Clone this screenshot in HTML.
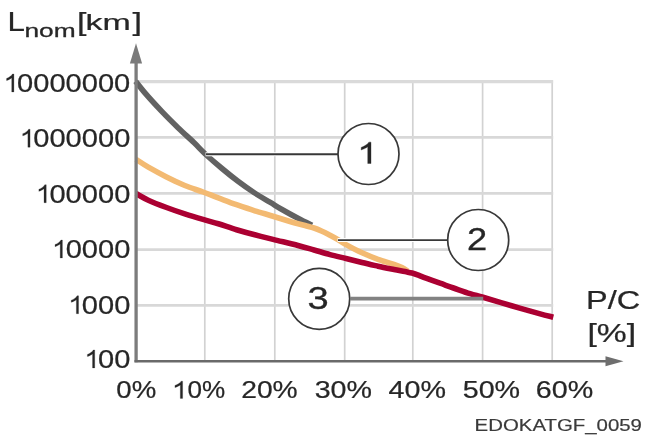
<!DOCTYPE html>
<html><head><meta charset="utf-8"><title>Chart</title>
<style>
html,body{margin:0;padding:0;background:#fff;}
body{width:649px;height:438px;overflow:hidden;font-family:"Liberation Sans",sans-serif;}
svg{display:block;font-family:"Liberation Sans",sans-serif;}
</style></head><body>
<svg width="649" height="438" viewBox="0 0 649 438">
<defs><filter id="bg" filterUnits="userSpaceOnUse" x="0" y="0" width="649" height="438"><feGaussianBlur stdDeviation="0.55"/></filter><filter id="bc" filterUnits="userSpaceOnUse" x="0" y="0" width="649" height="438"><feGaussianBlur stdDeviation="0.72"/></filter><filter id="bs" filterUnits="userSpaceOnUse" x="0" y="0" width="649" height="438"><feGaussianBlur stdDeviation="0.55"/></filter><filter id="bt" filterUnits="userSpaceOnUse" x="0" y="0" width="649" height="438"><feGaussianBlur stdDeviation="0.62"/></filter><filter id="bf" filterUnits="userSpaceOnUse" x="0" y="0" width="649" height="438"><feGaussianBlur stdDeviation="0.68"/></filter></defs>
<rect width="649" height="438" fill="#fff"/>
<g filter="url(#bg)" fill="none">
<line x1="204.8" y1="80.6" x2="204.8" y2="360.5" stroke="#d2d2d2" stroke-width="1.7"/>
<line x1="274.8" y1="80.6" x2="274.8" y2="360.5" stroke="#d2d2d2" stroke-width="1.7"/>
<line x1="344.7" y1="80.6" x2="344.7" y2="360.5" stroke="#d2d2d2" stroke-width="1.7"/>
<line x1="412.8" y1="80.6" x2="412.8" y2="360.5" stroke="#d2d2d2" stroke-width="1.7"/>
<line x1="482.6" y1="80.6" x2="482.6" y2="360.5" stroke="#d2d2d2" stroke-width="1.7"/>
<line x1="552.2" y1="80.6" x2="552.2" y2="360.5" stroke="#d2d2d2" stroke-width="1.7"/>
<line x1="136" y1="81.7" x2="553.2" y2="81.7" stroke="#dadada" stroke-width="3.2"/>
<line x1="136" y1="137.4" x2="553.2" y2="137.4" stroke="#d8d8d8" stroke-width="2.8"/>
<line x1="136" y1="193.3" x2="553.2" y2="193.3" stroke="#d8d8d8" stroke-width="2.8"/>
<line x1="136" y1="249.7" x2="553.2" y2="249.7" stroke="#d8d8d8" stroke-width="2.8"/>
<line x1="136" y1="305.4" x2="553.2" y2="305.4" stroke="#d8d8d8" stroke-width="2.8"/>
</g>
<g filter="url(#bc)">
<path d="M135.6,81.2 C137.3,83.4 141.6,89.1 146,94.2 C150.4,99.3 156.7,106.1 162,111.7 C167.3,117.3 172.7,122.6 178,127.7 C183.3,132.8 189.4,138.3 193.9,142.6 C198.4,146.9 200.3,149.4 205,153.7 C209.7,158.0 216.5,163.9 222,168.5 C227.5,173.1 232.7,177.3 238,181.3 C243.3,185.3 248.6,189.0 253.9,192.5 C259.2,196.0 265.2,199.4 269.9,202.2 C274.6,205.0 277.3,206.8 282,209.5 C286.7,212.2 294.0,216.2 298,218.3 C302.0,220.4 303.7,221.1 306,222.3 C308.3,223.5 311.0,224.8 312,225.3" stroke="#626262" stroke-width="5.6" fill="none"/>
<path d="M136,159.3 C138.1,160.6 143.2,164.2 148.3,167.2 C153.4,170.1 160.4,173.9 166.5,177 C172.6,180.1 178.7,183.0 184.8,185.5 C190.9,188.0 197.4,189.9 203,192 C208.6,194.1 212.7,195.8 218.3,197.9 C223.9,200.0 230.4,202.5 236.5,204.7 C242.6,206.8 248.7,208.9 254.8,210.8 C260.9,212.7 267.1,214.4 273,216.2 C278.9,218.0 284.7,219.9 290,221.5 C295.3,223.1 301.0,224.4 305,225.5 C309.0,226.6 311.2,227.1 314,228 C316.8,228.9 319.3,230.0 322,231.2 C324.7,232.4 327.3,233.8 330,235.2 C332.7,236.6 335.3,238.0 338,239.6 C340.7,241.2 342.0,242.4 346,244.6 C350.0,246.8 356.7,250.4 362,252.8 C367.3,255.2 372.7,257.4 378,259.3 C383.3,261.2 390.0,263.0 394,264.4 C398.0,265.8 399.7,266.5 402,267.6 C404.3,268.7 407.0,270.6 408,271.2" stroke="#f3ba72" stroke-width="5.6" fill="none"/>
<path d="M136,193.6 C138.1,194.7 143.2,197.9 148.3,200.2 C153.4,202.5 160.4,205.2 166.5,207.5 C172.6,209.8 178.7,211.9 184.8,213.9 C190.9,215.9 197.4,217.8 203,219.4 C208.6,221.1 212.7,222.1 218.3,223.8 C223.9,225.5 230.4,227.9 236.5,229.7 C242.6,231.5 248.7,233.2 254.8,234.8 C260.9,236.4 265.8,237.6 273,239.4 C280.2,241.2 291.2,243.7 298,245.5 C304.8,247.3 308.7,248.5 314,250 C319.3,251.5 324.7,253.2 330,254.6 C335.3,256.0 340.7,257.2 346,258.5 C351.3,259.8 356.7,261.2 362,262.5 C367.3,263.8 372.7,265.0 378,266.2 C383.3,267.4 389.5,268.6 394,269.5 C398.5,270.4 402.0,271.0 405,271.6 C408.0,272.2 409.7,272.4 412,273.0 C414.3,273.6 416.7,274.5 419,275.4 C421.3,276.3 422.5,276.9 426,278.2 C429.5,279.5 435.4,281.6 440,283.2 C444.6,284.8 448.5,286.3 453.5,288 C458.5,289.7 465.1,292.1 470,293.6 C474.9,295.2 476.1,295.3 483,297.3 C489.9,299.3 502.2,303.1 511.6,305.8 C521.0,308.5 532.3,311.7 539.3,313.6 C546.2,315.5 551.0,316.6 553.3,317.2" stroke="#ab0430" stroke-width="5.6" fill="none"/>
<line x1="136.1" y1="60" x2="136.1" y2="362.3" stroke="#7c7c7c" stroke-width="3.3"/>
<line x1="134.5" y1="361.3" x2="607" y2="361.3" stroke="#6a6a6a" stroke-width="2.6"/>
<polygon points="136,43.2 129.9,63.6 142.1,63.6" fill="#7a7a7a"/>
<polygon points="623.5,361.3 605.5,356.3 605.5,366.3" fill="#6e6e6e"/>
<line x1="350.5" y1="298.6" x2="483.2" y2="298.6" stroke="#828282" stroke-width="3.8"/>
</g>
<g filter="url(#bs)">
<line x1="205.6" y1="154.3" x2="338" y2="154.3" stroke="#fff" stroke-width="4.0"/>
<line x1="337.6" y1="240.1" x2="447.5" y2="240.1" stroke="#fff" stroke-width="4.0"/>
<line x1="206" y1="154.3" x2="338" y2="154.3" stroke="#383838" stroke-width="1.9"/>
<line x1="338" y1="240.1" x2="447.5" y2="240.1" stroke="#383838" stroke-width="1.9"/>
<circle cx="368.5" cy="154" r="30.5" fill="#fff" stroke="#383838" stroke-width="1.7"/>
<circle cx="478.2" cy="240" r="30.5" fill="#fff" stroke="#383838" stroke-width="1.7"/>
<circle cx="319.2" cy="298.8" r="30.5" fill="#fff" stroke="#383838" stroke-width="1.7"/>
</g>
<g filter="url(#bt)">
<path transform="translate(357.1330810546875,163.5) scale(0.01819,-0.01455)" d="M763 0H583V1147Q518 1085 412.5 1023T223 930V1104Q373 1174.5 485 1274.5T644 1469H763Z" fill="#262626" stroke="#262626" stroke-width="20.6"/>
<text transform="translate(477.2,250.0) scale(1.17,1)" font-size="31.0" text-anchor="middle" fill="#262626" stroke="#262626" stroke-width="0.3">2</text>
<text transform="translate(318.2,308.8) scale(1.23,1)" font-size="31.0" text-anchor="middle" fill="#262626" stroke="#262626" stroke-width="0.3">3</text>
<path transform="translate(4.589135156249975,91.9) scale(0.01221,-0.01221)" d="M763 0H583V1147Q507 1085 383 1023T160 930V1104Q336 1174.5 468 1274.5T644 1469H763Z" fill="#262626" stroke="#262626" stroke-width="18.0"/><text transform="translate(130.3,91.9) scale(1.163,1)" font-size="25.0" text-anchor="end" fill="#262626" stroke="#262626" stroke-width="0.22">0000000</text>
<path transform="translate(20.754835156249975,147.2) scale(0.01221,-0.01221)" d="M763 0H583V1147Q507 1085 383 1023T160 930V1104Q336 1174.5 468 1274.5T644 1469H763Z" fill="#262626" stroke="#262626" stroke-width="18.0"/><text transform="translate(130.3,147.2) scale(1.163,1)" font-size="25.0" text-anchor="end" fill="#262626" stroke="#262626" stroke-width="0.22">000000</text>
<path transform="translate(36.92053515624999,202.7) scale(0.01221,-0.01221)" d="M763 0H583V1147Q507 1085 383 1023T160 930V1104Q336 1174.5 468 1274.5T644 1469H763Z" fill="#262626" stroke="#262626" stroke-width="18.0"/><text transform="translate(130.3,202.7) scale(1.163,1)" font-size="25.0" text-anchor="end" fill="#262626" stroke="#262626" stroke-width="0.22">00000</text>
<path transform="translate(53.08623515624999,258.0) scale(0.01221,-0.01221)" d="M763 0H583V1147Q507 1085 383 1023T160 930V1104Q336 1174.5 468 1274.5T644 1469H763Z" fill="#262626" stroke="#262626" stroke-width="18.0"/><text transform="translate(130.3,258.0) scale(1.163,1)" font-size="25.0" text-anchor="end" fill="#262626" stroke="#262626" stroke-width="0.22">0000</text>
<path transform="translate(69.25193515624998,313.7) scale(0.01221,-0.01221)" d="M763 0H583V1147Q507 1085 383 1023T160 930V1104Q336 1174.5 468 1274.5T644 1469H763Z" fill="#262626" stroke="#262626" stroke-width="18.0"/><text transform="translate(130.3,313.7) scale(1.163,1)" font-size="25.0" text-anchor="end" fill="#262626" stroke="#262626" stroke-width="0.22">000</text>
<path transform="translate(85.41763515625,367.9) scale(0.01221,-0.01221)" d="M763 0H583V1147Q507 1085 383 1023T160 930V1104Q336 1174.5 468 1274.5T644 1469H763Z" fill="#262626" stroke="#262626" stroke-width="18.0"/><text transform="translate(130.3,367.9) scale(1.163,1)" font-size="25.0" text-anchor="end" fill="#262626" stroke="#262626" stroke-width="0.22">00</text>
<text transform="translate(116.3,398.4) scale(1.15,1)" font-size="24" text-anchor="start" fill="#262626" stroke="#262626" stroke-width="0.22">0%</text>
<path transform="translate(172.9,398.4) scale(0.01274,-0.01172)" d="M763 0H583V1147Q507 1085 383 1023T160 930V1104Q336 1174.5 468 1274.5T644 1469H763Z" fill="#262626" stroke="#262626" stroke-width="18.8"/>
<text transform="translate(187.404928,398.4) scale(1.087,1)" font-size="24" text-anchor="start" fill="#262626" stroke="#262626" stroke-width="0.22">0%</text>
<text transform="translate(241.2,398.4) scale(1.176,1)" font-size="24" text-anchor="start" fill="#262626" stroke="#262626" stroke-width="0.22">20%</text>
<text transform="translate(314.7,398.4) scale(1.193,1)" font-size="24" text-anchor="start" fill="#262626" stroke="#262626" stroke-width="0.22">30%</text>
<text transform="translate(388.5,398.4) scale(1.196,1)" font-size="24" text-anchor="start" fill="#262626" stroke="#262626" stroke-width="0.22">40%</text>
<text transform="translate(462.7,398.4) scale(1.196,1)" font-size="24" text-anchor="start" fill="#262626" stroke="#262626" stroke-width="0.22">50%</text>
<text transform="translate(535.8,398.4) scale(1.196,1)" font-size="24" text-anchor="start" fill="#262626" stroke="#262626" stroke-width="0.22">60%</text>
<text transform="translate(7.5,31.4) scale(1.16,1)" font-size="27" text-anchor="start" fill="#262626" stroke="#262626" stroke-width="0.22">L</text>
<text transform="translate(24.5,37) scale(1.37,1)" font-size="19.2" text-anchor="start" fill="#262626" stroke="#262626" stroke-width="0.3">nom</text>
<text transform="translate(77,31.0) scale(1.31,1)" font-size="26" text-anchor="start" fill="#262626" stroke="#262626" stroke-width="0.22">[</text>
<text transform="translate(85.4,30.2) scale(1.51,1)" font-size="22.5" text-anchor="start" fill="#262626" stroke="#262626" stroke-width="0.22">km</text>
<text transform="translate(132.4,31.0) scale(1.31,1)" font-size="26" text-anchor="start" fill="#262626" stroke="#262626" stroke-width="0.22">]</text>
<text transform="translate(586,309) scale(1.275,1)" font-size="25.5" text-anchor="start" fill="#262626" stroke="#262626" stroke-width="0.22">P/C</text>
<text transform="translate(587.5,341.5) scale(1.27,1)" font-size="26.5" text-anchor="start" fill="#262626" stroke="#262626" stroke-width="0.22">[%]</text>
</g>
<g filter="url(#bf)">
<text transform="translate(474.6,430.9) scale(1.2,1)" font-size="17" text-anchor="start" fill="#3a3a3a" stroke="#3a3a3a" stroke-width="0.2">EDOKATGF_0059</text>
</g>
</svg>
</body></html>
